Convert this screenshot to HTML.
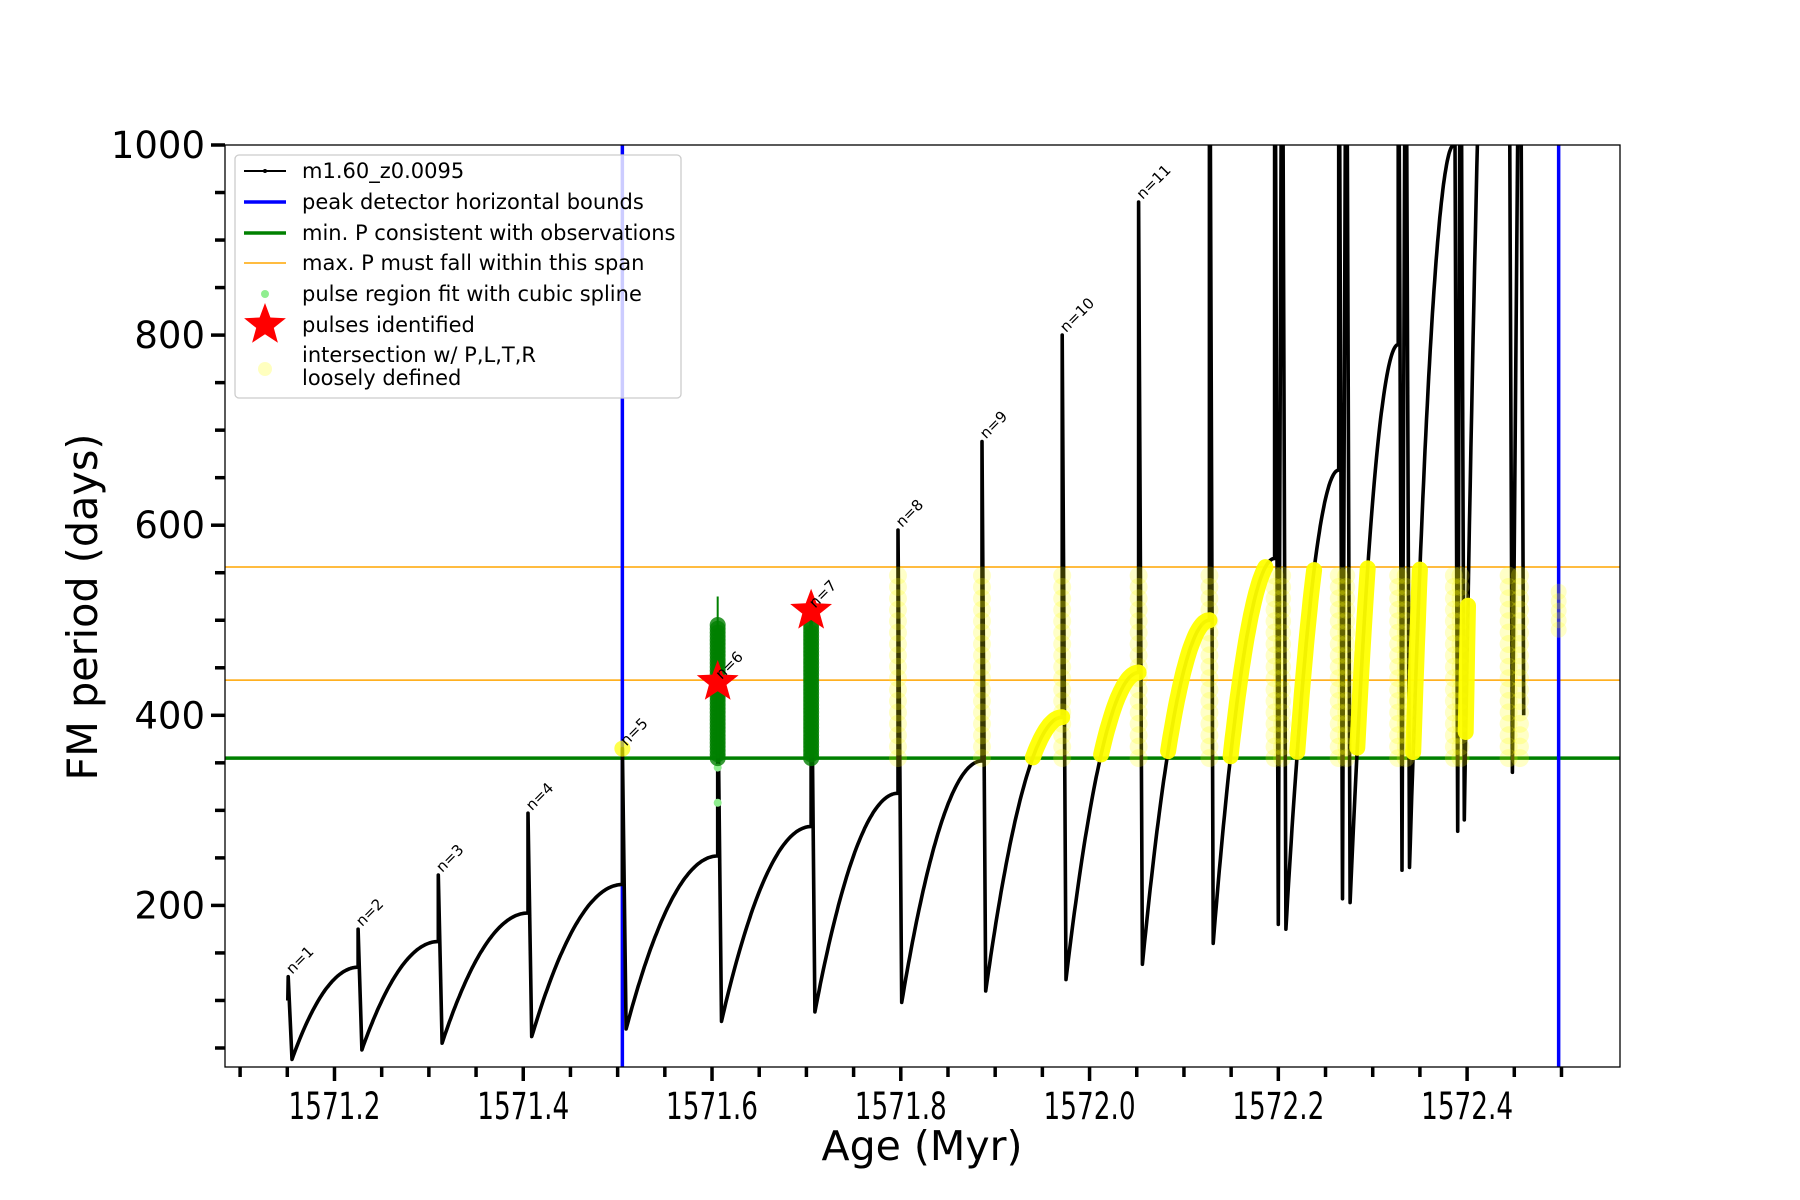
<!DOCTYPE html>
<html><head><meta charset="utf-8">
<style>
html,body{margin:0;padding:0;background:#fff;}
svg{display:block;font-family:"DejaVu Sans","Liberation Sans",sans-serif;}
</style></head>
<body>
<svg id="chart" width="1800" height="1200" viewBox="0 0 1800 1200" xmlns="http://www.w3.org/2000/svg">
<defs><clipPath id="plotclip"><rect x="225" y="145" width="1395" height="922"/></clipPath></defs>
<rect x="0" y="0" width="1800" height="1200" fill="#fff"/>
<g id="plot" clip-path="url(#plotclip)"></g>
<rect x="225" y="145" width="1395" height="922" fill="none" stroke="#000" stroke-width="1.3"/>
<g id="axes"></g>
<text x="922" y="1160" font-size="41" text-anchor="middle" textLength="201" lengthAdjust="spacingAndGlyphs">Age (Myr)</text>
<text transform="translate(97,607) rotate(-90)" font-size="42" text-anchor="middle" textLength="347" lengthAdjust="spacingAndGlyphs">FM period (days)</text>
<g id="legend">
<rect x="235" y="155" width="446" height="243" rx="4" fill="#fff" fill-opacity="0.8" stroke="#ccc" stroke-width="1.3"/>
<g><line x1="244" y1="171" x2="286" y2="171" stroke="#000" stroke-width="2"/><circle cx="265" cy="171" r="2" fill="#000"/><text x="302" y="178" font-size="21">m1.60_z0.0095</text></g>
<g><line x1="244" y1="202" x2="286" y2="202" stroke="#0000ff" stroke-width="3.5"/><text x="302" y="209" font-size="21">peak detector horizontal bounds</text></g>
<g><line x1="244" y1="233" x2="286" y2="233" stroke="#008000" stroke-width="3.5"/><text x="302" y="240" font-size="21">min. P consistent with observations</text></g>
<g><line x1="244" y1="263" x2="286" y2="263" stroke="#ffa500" stroke-width="1.5"/><text x="302" y="270" font-size="21">max. P must fall within this span</text></g>
<g><circle cx="265" cy="294" r="4" fill="#90ee90"/><text x="302" y="301" font-size="21">pulse region fit with cubic spline</text></g>
<g><polygon id="legstar" fill="#ff0000"/><text x="302" y="332" font-size="21">pulses identified</text></g>
<g><circle cx="265" cy="369" r="7" fill="#ffff00" fill-opacity="0.25"/><text x="302" y="362" font-size="21">intersection w/ P,L,T,R</text><text x="302" y="385" font-size="21">loosely defined</text></g>
</g>
</svg>
<script>
// ---- data ----
const pulseAge = [1571.151,1571.225,1571.310,1571.405,1571.505,1571.606,1571.705,1571.797,1571.886,1571.971,1572.052,1572.127,1572.196,1572.264,1572.327,1572.386,1572.444];
const spikeVal = [125,175,232,297,365,435,510,595,688,800,940,1300,1300,1300,1300,1300,1300];
const minVal   = [38,48,55,62,70,78,88,98,110,122,138,160,180,207,237,278,340];
const endVal   = [135,162,192,222,252,283,318,352,398,445,500,565,658,790,1000,1700,null];
const twinDt   = [0,0,0,0,0,0,0,0,0,0,0,0,0.008,0.008,0.008,0.007,0.012];
const twinMin  = [0,0,0,0,0,0,0,0,0,0,0,0,175,203,240,290,400];
const startVal = 100;
const pulseLabels = ["n=1","n=2","n=3","n=4","n=5","n=6","n=7","n=8","n=9","n=10","n=11"];
const starAges = [1571.606,1571.705];
const starVals = [435,510];
const greenPulseAges = [1571.606,1571.705];
const greenTop = [495,495];
const peakBounds = [1571.505,1572.497];
const minP = 355;
const maxPSpan = [437,556];
const xTicks = ["1571.2","1571.4","1571.6","1571.8","1572.0","1572.2","1572.4"];
const yTicks = [200,400,600,800,1000];

// ---- axes ----
const X0=225,X1=1620,Y0=145,Y1=1067,XMIN=1571.084,XMAX=1572.562,YMIN=30,YMAX=1000;
function X(a){return X0+(a-XMIN)/(XMAX-XMIN)*(X1-X0);}
function Y(v){return Y1-(v-YMIN)/(YMAX-YMIN)*(Y1-Y0);}
const NS="http://www.w3.org/2000/svg";
function mk(tag,attrs,parent){const e=document.createElementNS(NS,tag);for(const k in attrs)e.setAttribute(k,attrs[k]);parent.appendChild(e);return e;}
const plot=document.getElementById('plot'), axes=document.getElementById('axes');

function starPts(cx,cy,R){const r=R*0.42;let p=[];for(let i=0;i<10;i++){const a=-Math.PI/2+i*Math.PI/5;const rr=i%2?r:R;p.push((cx+rr*Math.cos(a)).toFixed(1)+','+(cy+rr*Math.sin(a)).toFixed(1));}return p.join(' ');}
document.getElementById('legstar').setAttribute('points',starPts(265,325,22));

let hl=mk('line',{x1:X0,x2:X1,y1:Y(minP),y2:Y(minP),stroke:'#008000','stroke-width':3.5},plot);


maxPSpan.forEach(v=>{const l=mk('line',{x1:X0,x2:X1,y1:Y(v),y2:Y(v),stroke:'#ffa500','stroke-width':1.5},plot);

});
peakBounds.forEach(a=>{const l=mk('line',{x1:X(a),x2:X(a),y1:Y0,y2:Y1,stroke:'#0000ff','stroke-width':3.5},plot);

});

let pts=[];let risePts=[];
for(let i=0;i<pulseAge.length;i++){
  const t=pulseAge[i];
  if(i===0)pts.push([t-0.0005,startVal]);
  pts.push([t,spikeVal[i]]);
  let tm=t+0.004; pts.push([tm,minVal[i]]);
  if(twinDt[i]>0){pts.push([t+twinDt[i],spikeVal[i]]);tm=t+twinDt[i]+0.004;pts.push([tm,twinMin[i]]);}
  if(endVal[i]!==null){
    const tn=(i+1<pulseAge.length)?pulseAge[i+1]:tm+0.05;
    const lo=twinDt[i]>0?twinMin[i]:minVal[i];
    let seg=[];
    for(let k=1;k<=60;k++){const u=k/60;const v=lo+(endVal[i]-lo)*(1-Math.pow(1-u,2));const p=[tm+(tn-tm)*u,v];pts.push(p);seg.push(p);}
    risePts.push(seg);
  }
}
const path=pts.map((p,j)=>(j?'L':'M')+X(p[0]).toFixed(1)+' '+Y(p[1]).toFixed(1)).join(' ');
const ser=mk('path',{d:path,fill:'none',stroke:'#000','stroke-width':3.6,'stroke-linejoin':'round'},plot);



for(let i=7;i<pulseAge.length;i++){
  const tops=Math.min(spikeVal[i],maxPSpan[1]);
  const xs=[pulseAge[i]];if(twinDt[i]>0)xs.push(pulseAge[i]+twinDt[i]);
  xs.forEach(a=>{for(let v=minP;v<=tops;v+=12){const c=mk('circle',{cx:X(a),cy:Y(v),r:9,fill:'#ffff00','fill-opacity':0.22},plot);
  
  }});
}
risePts.forEach(seg=>{let cur=[];const segs=[];seg.forEach(p=>{if(p[1]>=minP&&p[1]<=maxPSpan[1])cur.push(p);else{if(cur.length)segs.push(cur);cur=[];}});if(cur.length)segs.push(cur);
  segs.forEach(s=>{if(s.length<2)return;const d=s.map((p,j)=>(j?'L':'M')+X(p[0]).toFixed(1)+' '+Y(p[1]).toFixed(1)).join(' ');
  const y=mk('path',{d:d,fill:'none',stroke:'#ffff00','stroke-width':16,'stroke-linecap':'round','stroke-opacity':0.95},plot);
  
  });});
let yd=mk('circle',{cx:X(pulseAge[4]),cy:Y(spikeVal[4]),r:8,fill:'#ffff00','fill-opacity':0.7},plot);


for(let v=490;v<=530;v+=10){const c=mk('circle',{cx:X(peakBounds[1]),cy:Y(v),r:8,fill:'#ffff00','fill-opacity':0.22},plot);

}

greenPulseAges.forEach((a,i)=>{
  if(i===0){const l=mk('line',{x1:X(a),x2:X(a),y1:Y(minP),y2:Y(525),stroke:'#008000','stroke-width':2},plot);
  
  
  [345,308].forEach(v=>{const c=mk('circle',{cx:X(a),cy:Y(v),r:4,fill:'#90ee90'},plot);
  
  }); }
  for(let v=minP;v<=greenTop[i];v+=4){const c=mk('circle',{cx:X(a),cy:Y(v),r:8,fill:'#008000','fill-opacity':0.8},plot);
  
  }
});
starAges.forEach((a,i)=>{const s=mk('polygon',{points:starPts(X(a),Y(starVals[i]),22),fill:'#ff0000'},plot);

});
pulseLabels.forEach((t,i)=>{const x=X(pulseAge[i])+4,y=Y(spikeVal[i])-2;
const tx=mk('text',{x:x,y:y,'font-size':15,transform:`rotate(-45 ${x} ${y})`},axes);tx.textContent=t;

});

for(let k=0;k<=28;k++){const a=1571.10+k*0.05;const major=(k%4===2);const x=X(a);
 const l=mk('line',{x1:x,x2:x,y1:Y1,y2:Y1+(major?14:10),stroke:'#000','stroke-width':3.5},axes);
 
 }
xTicks.forEach(t=>{const tx=mk('text',{x:X(parseFloat(t)),y:Y1+52,'font-size':37,'text-anchor':'middle',textLength:92,lengthAdjust:'spacingAndGlyphs'},axes);tx.textContent=t;

});
for(let v=50;v<=1000;v+=50){const major=(v%200===0);const y=Y(v);
 const l=mk('line',{x1:X0-(major?14:10),x2:X0,y1:y,y2:y,stroke:'#000','stroke-width':3.5},axes);
 
 }
yTicks.forEach(v=>{const tx=mk('text',{x:X0-20,y:Y(v)+13,'font-size':37,'text-anchor':'end'},axes);tx.textContent=String(v);

});
</script>
</body></html>
